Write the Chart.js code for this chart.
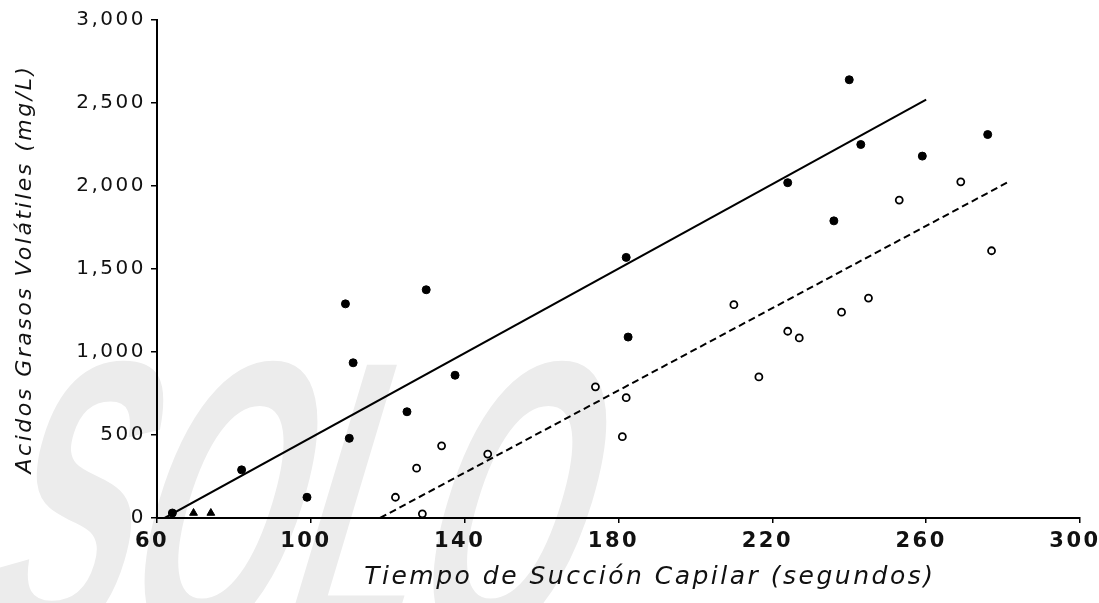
<!DOCTYPE html>
<html><head><meta charset="utf-8">
<script src="https://cdn.jsdelivr.net/npm/chart.js@4.4.1/dist/chart.umd.min.js"></script>
<style>html,body{margin:0;padding:0;background:#fff;}</style>
</head><body>
<canvas id="c" width="1099" height="603"></canvas>
<script>
// ---- data ----
const xTicks = [60, 100, 140, 180, 220, 260, 300];
const yTicks = [0, 500, 1000, 1500, 2000, 2500, 3000];
const yTickLabels = ['0', '500', '1,000', '1,500', '2,000', '2,500', '3,000'];

const filledX = [64, 82, 99, 110, 109, 111, 125, 130, 137.5, 182, 182.5, 224, 236, 240, 243, 259, 276];
const filledY = [30, 290, 125, 480, 1290, 935, 640, 1375, 860, 1570, 1090, 2020, 1790, 2640, 2250, 2180, 2310];

const triX = [69.5, 74];
const triY = [30, 30];

const openX = [122, 129, 127.5, 134, 146, 174, 182, 181, 210, 216.5, 224, 227, 238, 245, 253, 269, 277];
const openY = [125, 25, 300, 435, 385, 790, 725, 490, 1285, 850, 1125, 1085, 1240, 1325, 1915, 2025, 1610];

const solidLineX = [62, 260];
const solidLineY = [0, 2520];
const dashLineX = [118, 281];
const dashLineY = [0, 2020];

const xTitle = '\u00a0\u00a0\u00a0\u00a0\u00a0\u00a0Tiempo de Succión Capilar (segundos)';
const yTitle = 'Acidos Grasos Volátiles (mg/L)';
const watermarkText = 'SOLO';

// ---- build ----
const pts = (xs, ys) => xs.map((x, i) => ({x: x, y: ys[i]}));

const bgPlugin = {
  id: 'bg',
  beforeDraw(chart) {
    const ctx = chart.ctx;
    ctx.save();
    ctx.fillStyle = '#ececec';
    ctx.font = 'bold 400px "Liberation Sans"';
    ctx.setTransform(0.52, 0, -0.3, 1, -30, 640);
    ctx.fillText(watermarkText, 0, 0);
    ctx.restore();
    ctx.letterSpacing = '2.5px';
  }
};

new Chart(document.getElementById('c'), {
  type: 'scatter',
  data: {
    datasets: [
      {data: pts(solidLineX, solidLineY), showLine: true, borderColor: '#000', borderWidth: 2, pointRadius: 0},
      {data: pts(dashLineX, dashLineY), showLine: true, borderColor: '#000', borderWidth: 2, borderDash: [7, 4], pointRadius: 0},
      {data: pts(filledX, filledY), pointStyle: 'circle', pointRadius: 4, backgroundColor: '#000', borderColor: '#000', borderWidth: 1},
      {data: pts(triX, triY), pointStyle: 'triangle', pointRadius: 4.5, backgroundColor: '#000', borderColor: '#000', borderWidth: 1},
      {data: pts(openX, openY), pointStyle: 'circle', pointRadius: 3.5, backgroundColor: '#fff', borderColor: '#000', borderWidth: 1.8}
    ]
  },
  options: {
    responsive: false,
    animation: false,
    devicePixelRatio: 1,
    layout: {padding: {left: 0, right: 19, top: 20, bottom: 0}},
    plugins: {legend: {display: false}, tooltip: {enabled: false}},
    scales: {
      x: {
        type: 'linear', min: 60, max: 300,
        afterBuildTicks(s) { s.ticks = xTicks.map(v => ({value: v})); },
        afterFit(s) { s.height = 85; s.paddingLeft = 0; s.paddingRight = 0; },
        grid: {display: true, drawOnChartArea: false, drawTicks: true, tickLength: 5, color: '#000', lineWidth: 1.5},
        border: {display: true, color: '#000', width: 2},
        ticks: {color: '#111', padding: 6, maxRotation: 0, autoSkip: false, labelOffset: -5,
          font: {family: 'DejaVu Sans', size: 21, weight: 'bold'},
          callback: (v) => String(v)},
        title: {display: true, text: xTitle, color: '#111',
          font: {family: 'DejaVu Sans', size: 25, style: 'italic'}, padding: {top: 0, bottom: 11}}
      },
      y: {
        type: 'linear', min: 0, max: 3000,
        afterBuildTicks(s) { s.ticks = yTicks.map(v => ({value: v})); },
        afterFit(s) { s.width = 157; s.paddingTop = 0; s.paddingBottom = 0; },
        grid: {display: true, drawOnChartArea: false, drawTicks: true, tickLength: 6, color: '#000', lineWidth: 1.5},
        border: {display: true, color: '#000', width: 2},
        ticks: {color: '#111', padding: 5, autoSkip: false,
          font: {family: 'DejaVu Sans', size: 20},
          callback: (v, i) => yTickLabels[yTicks.indexOf(v)]},
        title: {display: true, text: yTitle, color: '#111',
          font: {family: 'DejaVu Sans', size: 22, style: 'italic'}, padding: {top: 12, bottom: 0}}
      }
    }
  },
  plugins: [bgPlugin]
});
</script>
</body></html>
